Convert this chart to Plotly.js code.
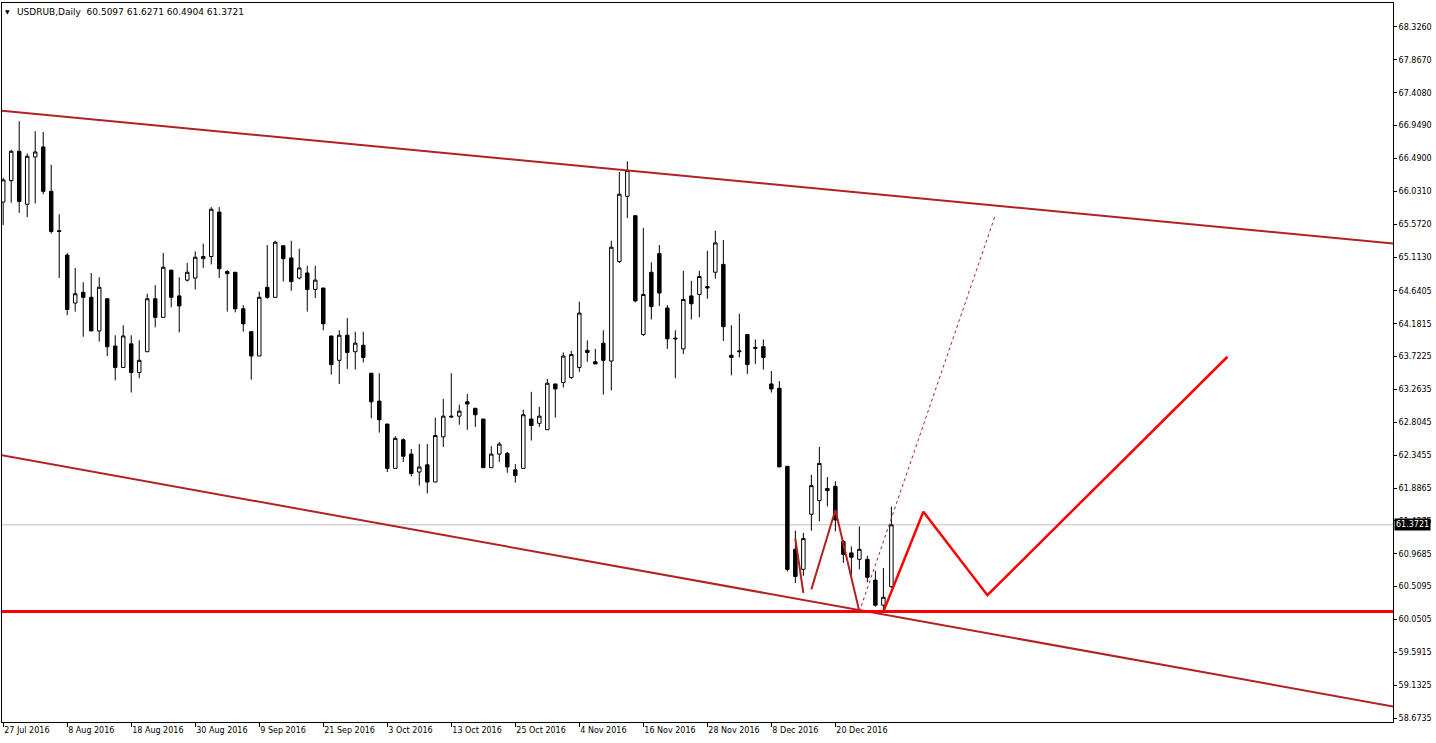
<!DOCTYPE html>
<html>
<head>
<meta charset="utf-8">
<script src="https://cdn.plot.ly/plotly-3.0.1.min.js"></script>
<style>
html,body{margin:0;padding:0;background:#fff;}
#chart{width:1436px;height:743px;}
</style>
</head>
<body>
<div id="chart"></div>
<script>
// ---- data ----
const symbol = 'USDRUB,Daily';
const dates = [
 '2016-07-27','2016-07-28','2016-07-29',
 '2016-08-01','2016-08-02','2016-08-03','2016-08-04','2016-08-05',
 '2016-08-08','2016-08-09','2016-08-10','2016-08-11','2016-08-12',
 '2016-08-15','2016-08-16','2016-08-17','2016-08-18','2016-08-19',
 '2016-08-22','2016-08-23','2016-08-24','2016-08-25','2016-08-26',
 '2016-08-29','2016-08-30','2016-08-31','2016-09-01','2016-09-02',
 '2016-09-05','2016-09-06','2016-09-07','2016-09-08','2016-09-09',
 '2016-09-12','2016-09-13','2016-09-14','2016-09-15','2016-09-16',
 '2016-09-19','2016-09-20','2016-09-21','2016-09-22','2016-09-23',
 '2016-09-26','2016-09-27','2016-09-28','2016-09-29','2016-09-30',
 '2016-10-03','2016-10-04','2016-10-05','2016-10-06','2016-10-07',
 '2016-10-10','2016-10-11','2016-10-12','2016-10-13','2016-10-14',
 '2016-10-17','2016-10-18','2016-10-19','2016-10-20','2016-10-21',
 '2016-10-24','2016-10-25','2016-10-26','2016-10-27','2016-10-28',
 '2016-10-31','2016-11-01','2016-11-02','2016-11-03','2016-11-04',
 '2016-11-07','2016-11-08','2016-11-09','2016-11-10','2016-11-11',
 '2016-11-14','2016-11-15','2016-11-16','2016-11-17','2016-11-18',
 '2016-11-21','2016-11-22','2016-11-23','2016-11-24','2016-11-25',
 '2016-11-28','2016-11-29','2016-11-30','2016-12-01','2016-12-02',
 '2016-12-05','2016-12-06','2016-12-07','2016-12-08','2016-12-09',
 '2016-12-12','2016-12-13','2016-12-14','2016-12-15','2016-12-16',
 '2016-12-19','2016-12-20','2016-12-21','2016-12-22','2016-12-23',
 '2016-12-26','2016-12-27','2016-12-28','2016-12-29'
];
const open = [
 65.88,66.18,66.59,65.85,66.51,66.65,66.03,65.48,65.14,64.47,
 64.62,64.55,64.08,64.53,63.87,63.57,63.90,63.50,63.79,64.53,
 64.27,64.93,64.57,64.79,64.82,65.09,65.12,65.74,64.91,64.90,
 64.39,64.07,63.73,64.69,64.55,65.27,65.10,64.82,64.89,64.66,
 64.68,64.01,63.67,64.02,63.79,63.88,63.49,63.10,62.78,62.16,
 62.56,62.36,62.11,62.21,61.97,62.60,62.89,62.89,63.09,63.00,
 62.85,62.17,62.36,62.37,62.14,62.16,62.85,62.79,62.70,63.34,
 63.36,63.43,63.57,63.81,63.65,63.91,63.66,65.05,65.96,65.69,
 64.03,64.90,65.16,64.40,63.98,63.83,64.57,64.59,64.70,64.90,
 65.01,63.74,63.79,64.03,63.85,63.86,63.34,63.28,62.19,61.03,
 60.75,61.52,61.71,61.88,61.91,61.14,60.98,60.89,60.89,60.60,
 60.25,60.5097
];
const high = [
 66.22,66.61,67.01,66.56,66.87,66.86,66.40,65.71,65.17,64.96,
 64.76,64.89,64.83,64.53,64.02,64.16,64.02,63.95,64.60,64.72,
 65.17,64.93,64.83,65.03,65.19,65.30,65.81,65.81,64.93,64.90,
 64.44,64.07,64.63,65.28,65.34,65.28,65.34,65.23,64.99,64.99,
 64.68,64.01,64.09,64.26,64.07,64.07,63.49,63.49,62.78,62.61,
 62.58,62.43,62.50,62.50,62.87,63.13,63.49,63.05,63.20,63.00,
 62.85,62.47,62.53,62.39,62.22,62.98,63.23,63.02,63.41,63.34,
 63.78,63.80,64.49,63.95,63.83,64.09,65.34,66.30,66.45,65.69,
 65.52,65.04,65.28,64.44,64.09,64.92,64.78,64.92,65.20,65.48,
 65.35,64.16,64.32,64.04,63.96,63.96,63.52,63.38,62.19,61.29,
 61.26,62.07,62.46,62.04,61.98,61.16,61.07,61.35,60.94,60.73,
 60.77,61.6271
];
const low = [
 65.56,65.87,65.73,65.67,65.86,65.99,65.44,64.82,64.30,64.35,
 64.00,64.08,63.93,63.73,63.39,63.57,63.22,63.42,63.79,64.13,
 64.27,64.41,64.06,64.77,64.66,64.96,65.01,64.82,64.35,64.34,
 64.07,63.40,63.73,64.53,64.55,64.77,64.64,64.80,64.35,64.54,
 64.09,63.47,63.34,63.55,63.54,63.64,62.86,62.66,62.11,62.16,
 62.25,62.05,61.92,61.81,61.97,62.46,62.87,62.77,62.70,62.74,
 62.17,62.17,62.25,62.10,61.96,62.16,62.55,62.74,62.70,62.87,
 63.29,63.41,63.51,63.65,63.62,63.19,63.25,65.03,65.66,64.48,
 64.01,64.24,64.43,63.83,63.42,63.76,64.24,64.27,64.53,64.81,
 63.94,63.46,63.71,63.48,63.62,63.54,63.22,62.18,60.72,60.56,
 60.66,61.29,61.42,61.63,61.28,60.84,60.67,60.75,60.57,60.23,
 60.14,60.4904
];
const close = [
 66.19,66.59,65.89,66.52,66.58,66.03,65.47,65.47,64.38,64.60,
 64.55,64.08,64.69,63.86,63.57,64.01,63.50,63.67,64.53,64.27,
 64.97,64.55,64.43,64.90,65.11,65.12,65.78,64.95,64.88,64.39,
 64.18,63.73,64.55,64.55,65.32,65.09,64.77,64.96,64.66,64.79,
 64.18,63.61,64.02,63.78,63.91,63.71,63.09,62.84,62.16,62.58,
 62.33,62.09,62.18,61.97,62.62,62.89,62.88,62.96,63.06,62.91,
 62.17,62.36,62.50,62.18,62.06,62.91,62.76,62.89,63.35,63.27,
 63.73,63.75,64.33,63.78,63.62,63.67,65.25,65.99,66.32,64.50,
 64.59,64.42,64.61,63.97,63.97,64.52,64.46,64.84,64.68,65.31,
 64.14,63.71,63.80,63.61,63.84,63.71,63.27,62.18,60.75,60.65,
 61.18,61.92,62.23,61.85,61.44,60.96,60.92,61.03,60.64,60.25,
 60.36,61.3721
];

// tick labels
const xTickDates  = ['2016-07-27','2016-08-08','2016-08-18','2016-08-30','2016-09-09','2016-09-21','2016-10-03',
                     '2016-10-13','2016-10-25','2016-11-04','2016-11-16','2016-11-28','2016-12-08','2016-12-20'];
const xTickLabels = ['27 Jul 2016','8 Aug 2016','18 Aug 2016','30 Aug 2016','9 Sep 2016','21 Sep 2016','3 Oct 2016',
                     '13 Oct 2016','25 Oct 2016','4 Nov 2016','16 Nov 2016','28 Nov 2016','8 Dec 2016','20 Dec 2016'];
const yTickLabels = ['68.3260','67.8670','67.4080','66.9490','66.4900','66.0310','65.5720','65.1130','64.6405','64.1815',
                     '63.7225','63.2635','62.8045','62.3455','61.8865','61.4275','60.9685','60.5095','60.0505','59.5915',
                     '59.1325','58.6735'];

// drawn objects (bar index, price)
const upperChannelX = [5, 156],   upperChannelY = [67.10, 65.49];
const lowerChannelX = [0, 170],   lowerChannelY = [62.34, 58.91];
const supportLevel = 60.16;
const patternX = [99, 100, null, 101, 104, 107];
const patternY = [61.18, 60.42, null, 60.47, 61.58, 60.16];
const dottedX = [107, 124], dottedY = [60.16, 65.70];
const projectionX = [110, 115, 123, 153];
const projectionY = [60.16, 61.555, 60.39, 63.72];

// ---- build ----
const idx = dates.map((d, i) => i);
const N = dates.length;
const xRange = [-0.15, 173.69];
const yRange = [58.618, 68.661];

function extendLine(ax, ay) {
  const slope = (ay[1] - ay[0]) / (ax[1] - ax[0]);
  const xa = xRange[0] - 2, xb = xRange[1] + 2;
  return {x: [xa, xb], y: [ay[0] + slope * (xa - ax[0]), ay[0] + slope * (xb - ax[0])]};
}
const up = extendLine(upperChannelX, upperChannelY);
const lo = extendLine(lowerChannelX, lowerChannelY);

const DARK = '#B22222', RED = '#FF0000';
const FONT = 'DejaVu Sans, Verdana, sans-serif';

const traces = [
  {
    type: 'candlestick', x: idx, open: open, high: high, low: low, close: close,
    increasing: {line: {color: '#000', width: 1}, fillcolor: '#fff'},
    decreasing: {line: {color: '#000', width: 1}, fillcolor: '#000'},
    whiskerwidth: 0, hoverinfo: 'skip', showlegend: false
  },
  {type: 'scatter', mode: 'lines', x: up.x, y: up.y, line: {color: DARK, width: 2}, hoverinfo: 'skip', showlegend: false},
  {type: 'scatter', mode: 'lines', x: lo.x, y: lo.y, line: {color: DARK, width: 2}, hoverinfo: 'skip', showlegend: false},
  {type: 'scatter', mode: 'lines', x: [xRange[0] - 2, xRange[1] + 2], y: [supportLevel, supportLevel],
   line: {color: RED, width: 3}, hoverinfo: 'skip', showlegend: false},
  {type: 'scatter', mode: 'lines', x: patternX, y: patternY, connectgaps: false,
   line: {color: DARK, width: 2}, hoverinfo: 'skip', showlegend: false},
  {type: 'scatter', mode: 'lines', x: dottedX, y: dottedY,
   line: {color: DARK, width: 1, dash: '3px,3px'}, hoverinfo: 'skip', showlegend: false},
  {type: 'scatter', mode: 'lines', x: projectionX, y: projectionY,
   line: {color: RED, width: 2.5}, hoverinfo: 'skip', showlegend: false}
];

const last = N - 1;
const headerText = symbol + '  ' + [open[last], high[last], low[last], close[last]].map(v => v.toFixed(4)).join(' ');

const layout = {
  width: 1436, height: 743,
  margin: {l: 2, r: 43, t: 3, b: 21},
  paper_bgcolor: '#fff', plot_bgcolor: '#fff',
  showlegend: false,
  boxgap: 0.38,
  font: {family: FONT, size: 8, color: '#000'},
  xaxis: {
    type: 'linear', range: xRange, fixedrange: true,
    rangeslider: {visible: false},
    showgrid: false, zeroline: false,
    showline: true, mirror: true, linecolor: '#000', linewidth: 1,
    tickmode: 'array',
    tickvals: xTickDates.map(d => dates.indexOf(d)),
    ticktext: xTickLabels,
    ticks: 'outside', ticklen: 4, tickcolor: '#000', tickwidth: 1,
    ticklabelposition: 'outside right',
    tickfont: {family: FONT, size: 8, color: '#000'}
  },
  yaxis: {
    type: 'linear', range: yRange, fixedrange: true, side: 'right',
    showgrid: false, zeroline: false,
    showline: true, mirror: true, linecolor: '#000', linewidth: 1,
    tickmode: 'array',
    tickvals: yTickLabels.map(parseFloat),
    ticktext: yTickLabels,
    ticks: 'outside', ticklen: 3, tickcolor: '#000', tickwidth: 1,
    tickfont: {family: FONT, size: 8, color: '#000'}
  },
  shapes: [
    {type: 'line', layer: 'below', xref: 'paper', x0: 0, x1: 1, yref: 'y', y0: close[last], y1: close[last],
     line: {color: '#C0C0C0', width: 1}}
  ],
  annotations: [
    {xref: 'paper', yref: 'paper', x: 0, y: 1, xanchor: 'left', yanchor: 'top', xshift: 1, yshift: -3,
     text: '▼', showarrow: false, font: {family: FONT, size: 6, color: '#000'}},
    {xref: 'paper', yref: 'paper', x: 0, y: 1, xanchor: 'left', yanchor: 'top', xshift: 13, yshift: -2,
     text: headerText, showarrow: false, font: {family: FONT, size: 9, color: '#000'}},
    {xref: 'paper', yref: 'y', x: 1, y: close[last], xanchor: 'left', yanchor: 'middle', xshift: 1,
     text: close[last].toFixed(4), showarrow: false, bgcolor: '#000', borderpad: 1,
     font: {family: FONT, size: 8, color: '#fff'}}
  ]
};

Plotly.newPlot('chart', traces, layout, {staticPlot: true, displayModeBar: false});
</script>
</body>
</html>
